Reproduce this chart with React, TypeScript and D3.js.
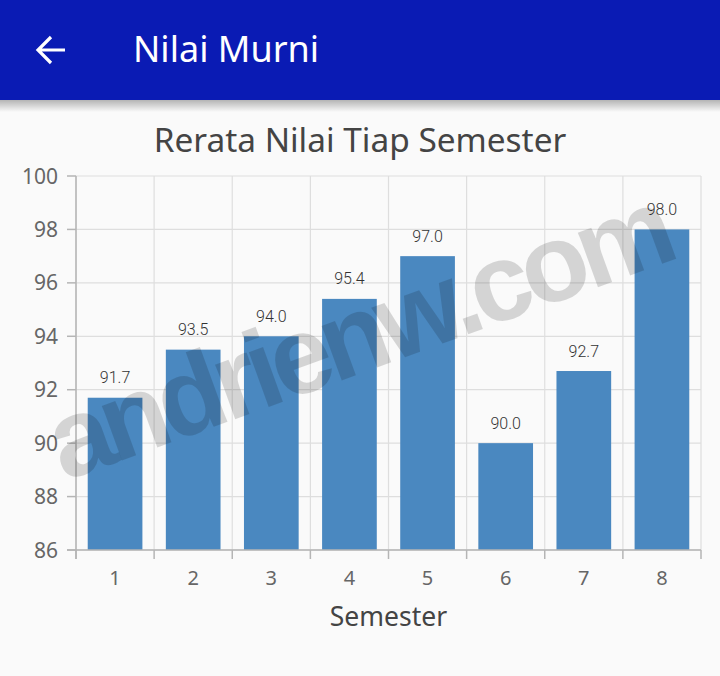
import { useEffect, useRef } from "react";
import * as d3 from "d3";

const semesters = ["1", "2", "3", "4", "5", "6", "7", "8"];
const averages = [91.7, 93.5, 94.0, 95.4, 97.0, 90.0, 92.7, 98.0];
const yTicks = [86, 88, 90, 92, 94, 96, 98, 100];
const yDomain = [86, 100];

const chartTitle = "Rerata Nilai Tiap Semester";
const xTitle = "Semester";
const pageTitle = "Nilai Murni";
const watermark = "andrienw.com";

export default function App() {
  const svgRef = useRef<SVGSVGElement | null>(null);

  useEffect(() => {
    document.body.style.margin = "0";
    const width = 720;
    const height = 676;
    const margin = { top: 176, right: 19, bottom: 126, left: 76 };
    const font = "'Noto Sans', 'Open Sans', sans-serif";

    const svg = d3.select(svgRef.current);
    svg.attr("viewBox", `0 0 ${width} ${height}`);
    svg.selectAll("*").remove();

    svg.append("rect").attr("width", width).attr("height", height).attr("fill", "#fafafa");

    const x = d3
      .scaleBand<string>()
      .domain(semesters)
      .range([margin.left, width - margin.right]);

    const y = d3
      .scaleLinear()
      .domain(yDomain)
      .range([height - margin.bottom, margin.top]);

    const bottom = height - margin.bottom;
    const right = width - margin.right;

    // grid
    const grid = svg.append("g").attr("stroke", "#dedede").attr("stroke-width", 1.2);
    grid
      .selectAll("line.h")
      .data(yTicks)
      .join("line")
      .attr("x1", margin.left)
      .attr("x2", right)
      .attr("y1", (d) => y(d))
      .attr("y2", (d) => y(d));
    const edges = semesters.map((s) => x(s)!).concat([right]);
    grid
      .selectAll("line.v")
      .data(edges)
      .join("line")
      .attr("x1", (d) => d)
      .attr("x2", (d) => d)
      .attr("y1", margin.top)
      .attr("y2", bottom);

    // bars
    const inset = x.bandwidth() * 0.15;
    svg
      .append("g")
      .selectAll("rect")
      .data(averages)
      .join("rect")
      .attr("x", (_, i) => x(semesters[i])! + inset)
      .attr("width", x.bandwidth() - 2 * inset)
      .attr("y", (d) => y(d))
      .attr("height", (d) => bottom - y(d))
      .attr("fill", "#4a88c0");

    svg
      .append("g")
      .selectAll("text")
      .data(averages)
      .join("text")
      .attr("x", (_, i) => x(semesters[i])! + x.bandwidth() / 2)
      .attr("y", (d) => y(d) - 14.5)
      .attr("text-anchor", "middle")
      .attr("font-family", "Roboto, sans-serif")
      .attr("font-weight", 300)
      .attr("font-size", 16)
      .attr("fill", "#333")
      .text((d) => d.toFixed(1));

    // axes
    const axes = svg.append("g").attr("stroke", "#b5b5b5").attr("stroke-width", 1.5);
    axes.append("line").attr("x1", margin.left).attr("x2", margin.left).attr("y1", margin.top).attr("y2", bottom + 9);
    axes.append("line").attr("x1", margin.left - 9).attr("x2", right).attr("y1", bottom).attr("y2", bottom);
    axes
      .selectAll("line.yt")
      .data(yTicks)
      .join("line")
      .attr("x1", margin.left - 9)
      .attr("x2", margin.left)
      .attr("y1", (d) => y(d))
      .attr("y2", (d) => y(d));
    axes
      .selectAll("line.xt")
      .data(edges)
      .join("line")
      .attr("x1", (d) => d)
      .attr("x2", (d) => d)
      .attr("y1", bottom)
      .attr("y2", bottom + 9);

    svg
      .append("g")
      .selectAll("text")
      .data(yTicks)
      .join("text")
      .attr("x", margin.left - 18)
      .attr("y", (d) => y(d) + 7.5)
      .attr("text-anchor", "end")
      .attr("font-family", font)
      .attr("font-size", 21)
      .attr("fill", "#666")
      .text((d) => d);

    svg
      .append("g")
      .selectAll("text")
      .data(semesters)
      .join("text")
      .attr("x", (d) => x(d)! + x.bandwidth() / 2)
      .attr("y", bottom + 35)
      .attr("text-anchor", "middle")
      .attr("font-family", font)
      .attr("font-size", 20)
      .attr("fill", "#666")
      .text((d) => d);

    svg
      .append("text")
      .attr("x", (margin.left + right) / 2)
      .attr("y", 626)
      .attr("text-anchor", "middle")
      .attr("font-family", font)
      .attr("font-size", 26.5)
      .attr("fill", "#444")
      .text(xTitle);

    svg
      .append("text")
      .attr("x", 360)
      .attr("y", 152)
      .attr("text-anchor", "middle")
      .attr("font-family", font)
      .attr("font-size", 33.4)
      .attr("fill", "#444")
      .text(chartTitle);

    // watermark
    svg
      .append("text")
      .attr("transform", "translate(370,370) rotate(-20)")
      .attr("text-anchor", "middle")
      .attr("font-family", "'Liberation Sans', Arial, sans-serif")
      .attr("font-weight", "bold")
      .attr("font-size", 110)
      .attr("letter-spacing", -7)
      .attr("fill", "#000")
      .attr("fill-opacity", 0.15)
      .text(watermark);

    // app bar
    const defs = svg.append("defs");
    const grad = defs
      .append("linearGradient")
      .attr("id", "shadow")
      .attr("x1", 0)
      .attr("x2", 0)
      .attr("y1", 0)
      .attr("y2", 1);
    grad.append("stop").attr("offset", 0).attr("stop-color", "#000").attr("stop-opacity", 0.28);
    grad.append("stop").attr("offset", 1).attr("stop-color", "#000").attr("stop-opacity", 0);
    svg.append("rect").attr("y", 100).attr("width", width).attr("height", 12).attr("fill", "url(#shadow)");
    svg.append("rect").attr("width", width).attr("height", 100).attr("fill", "#0a1bb4");

    svg
      .append("path")
      .attr("d", "M65,50H39M51,37L38,50L51,63")
      .attr("fill", "none")
      .attr("stroke", "#fff")
      .attr("stroke-width", 3.2);

    svg
      .append("text")
      .attr("x", 133)
      .attr("y", 62)
      .attr("font-family", font)
      .attr("font-size", 36)
      .attr("fill", "#fff")
      .text(pageTitle);
  }, []);

  return <svg ref={svgRef} width={720} height={676} style={{ display: "block" }} />;
}
